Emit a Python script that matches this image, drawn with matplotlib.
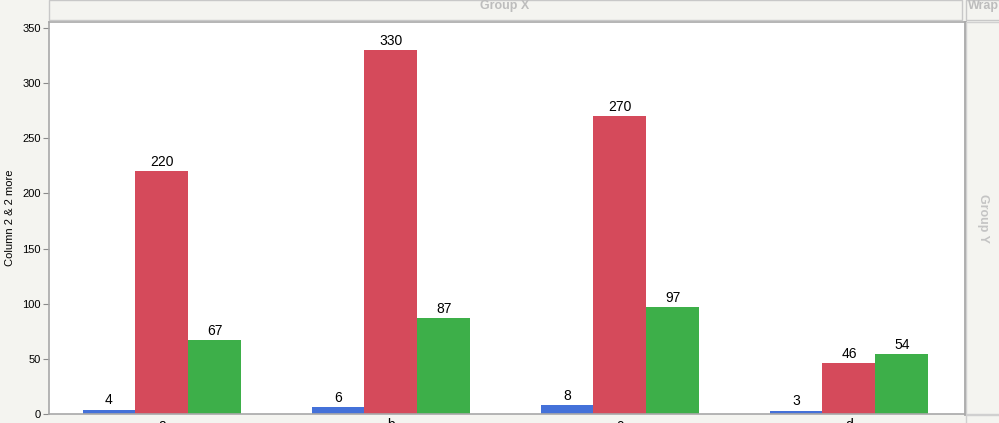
import matplotlib
matplotlib.use("Agg")
import matplotlib.pyplot as plt
from matplotlib.patches import Rectangle
import numpy as np

categories = ["a", "b", "c", "d"]
blue_vals = [4, 6, 8, 3]
red_vals = [220, 330, 270, 46]
green_vals = [67, 87, 97, 54]
yticks = [0, 50, 100, 150, 200, 250, 300, 350]
ylabel = "Column 2 & 2 more"

plt.rcParams['font.family'] = ['Liberation Sans', 'DejaVu Sans']

BG = "#f4f4f0"
W, H = 999, 423
fig = plt.figure(figsize=(W / 100, H / 100), dpi=100, facecolor=BG)

L, R, T, B = 49, 965, 22, 414
ax = fig.add_axes([L / W, (H - B) / H, (R - L) / W, (B - T) / H])
ax.set_facecolor("white")

x = np.arange(len(categories))
w = 0.231
colors = ["#4471d9", "#d54a5b", "#3daf49"]
for i, (vals, c) in enumerate(zip([blue_vals, red_vals, green_vals], colors)):
    bars = ax.bar(x + (i - 1) * w, vals, width=w, color=c, edgecolor="none")
    for b, v in zip(bars, vals):
        ax.text(b.get_x() + b.get_width() / 2, v + 2, str(v), ha="center", va="bottom",
                fontsize=10, color="black")

ax.set_xlim(-0.493, 3.507)
ax.set_ylim(0, 355.5)
ax.set_yticks(yticks)
ax.set_yticklabels([str(t) for t in yticks], fontsize=8)
ax.set_xticks(x)
ax.set_xticklabels(categories, fontsize=10)
ax.tick_params(axis="y", length=4, color="#8a8a8a", width=0.8, pad=2)
ax.tick_params(axis="x", length=0, pad=3)
ax.set_ylabel(ylabel, fontsize=8, labelpad=5)

for s in ["left", "top", "bottom"]:
    ax.spines[s].set_color("#a8a8a8")
    ax.spines[s].set_linewidth(1.2)
ax.spines["right"].set_color("#a8a8a8")
ax.spines["right"].set_linewidth(2)

# Header band "Group X"
fig.patches.append(Rectangle((L / W, (H - 20) / H), (962 - L) / W, 20 / H,
                             transform=fig.transFigure, facecolor=BG,
                             edgecolor="#c8c8c8", linewidth=1, zorder=0))
fig.text(505 / W, (H - 6) / H, "Group X", ha="center", va="center",
         fontsize=9, fontweight="bold", color="#bdbdbd")
# Wrap box
fig.patches.append(Rectangle((966 / W, (H - 20) / H), 40 / W, 20 / H,
                             transform=fig.transFigure, facecolor=BG,
                             edgecolor="#c8c8c8", linewidth=1, zorder=0))
fig.text(968 / W, (H - 6) / H, "Wrap", ha="left", va="center",
         fontsize=9, fontweight="bold", color="#bdbdbd")
# Right strip
fig.patches.append(Rectangle((966 / W, (H - 414) / H), 40 / W, (414 - 22) / H,
                             transform=fig.transFigure, facecolor=BG,
                             edgecolor="#d0d0d0", linewidth=1, zorder=0))
fig.text(983 / W, (H - 218) / H, "Group Y", ha="center", va="center", rotation=-90,
         fontsize=9, fontweight="bold", color="#c4c4c4")
# bottom strip right box
fig.patches.append(Rectangle((966 / W, -5 / H), 40 / W, 13 / H,
                             transform=fig.transFigure, facecolor=BG,
                             edgecolor="#d0d0d0", linewidth=1, zorder=0))

fig.savefig("out.png", dpi=100, facecolor=BG)
